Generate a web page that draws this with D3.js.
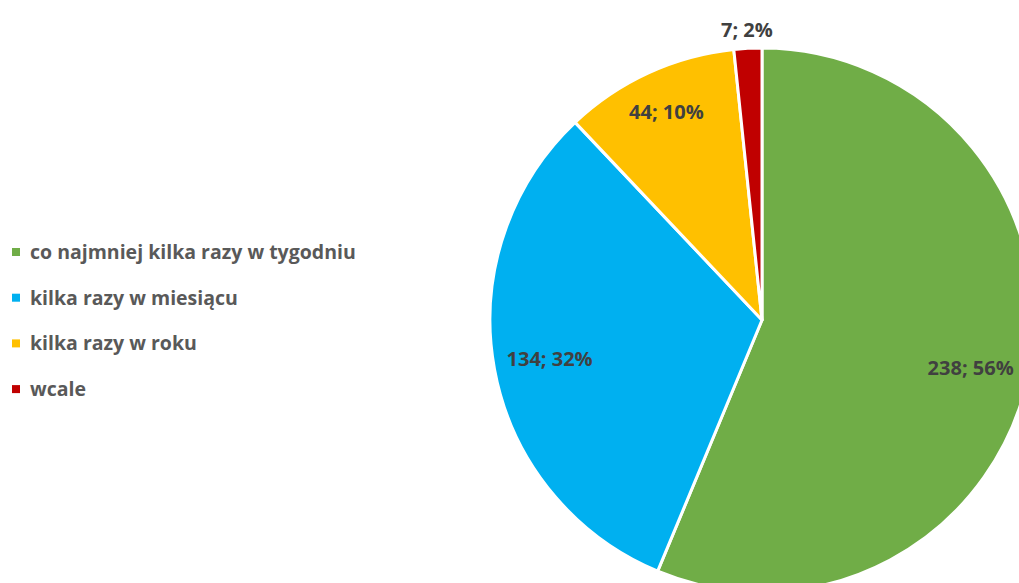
<!DOCTYPE html>
<html>
<head>
<meta charset="utf-8">
<script src="https://cdn.jsdelivr.net/npm/d3@7"></script>
<style>
  html, body { margin: 0; padding: 0; background: #fff; overflow: hidden; }
  svg { display: block; font-family: "Open Sans", Lato, sans-serif; font-weight: bold; }
</style>
</head>
<body>
<svg id="chart"></svg>
<script>
// ── Data ─────────────────────────────────────────────────────────────────────
const categories = [
  "co najmniej kilka razy w tygodniu",
  "kilka razy w miesiącu",
  "kilka razy w roku",
  "wcale"
];
const counts   = [238, 134, 44, 7];
const percents = ["56%", "32%", "10%", "2%"];
const colors   = ["#70AD47", "#00B0F0", "#FFC000", "#C00000"];

// ── Layout ───────────────────────────────────────────────────────────────────
const W = 1019, H = 583;
const cx = 762, cy = 320, R = 272;
// label distance from centre and angle nudge (deg), per slice
const labelR     = [214, 216, 229, 290];
const labelNudge = [1.6, 0, 0, 0];

const svg = d3.select("#chart").attr("width", W).attr("height", H);

const pie = d3.pie().sort(null).value(d => d)(counts);
const arc = d3.arc().innerRadius(0).outerRadius(R);

const g = svg.append("g").attr("transform", `translate(${cx},${cy})`);

g.selectAll("path")
  .data(pie)
  .join("path")
  .attr("d", arc)
  .attr("fill", (d, i) => colors[i])
  .attr("stroke", "#fff")
  .attr("stroke-width", 3)
  .attr("stroke-linejoin", "round");

// ── Data labels ──────────────────────────────────────────────────────────────
g.selectAll("text.lbl")
  .data(pie)
  .join("text")
  .attr("class", "lbl")
  .attr("transform", (d, i) => {
    const a = (d.startAngle + d.endAngle) / 2 + labelNudge[i] * Math.PI / 180;
    const x = Math.sin(a) * labelR[i], y = -Math.cos(a) * labelR[i];
    return `translate(${x},${y})`;
  })
  .attr("text-anchor", "middle")
  .attr("dy", "0.35em")
  .attr("fill", "#404040")
  .attr("font-size", 20)
  .text((d, i) => `${counts[i]}; ${percents[i]}`);

// ── Legend ───────────────────────────────────────────────────────────────────
const legend = svg.append("g").attr("transform", "translate(12,252)");
const rows = legend.selectAll("g")
  .data(categories)
  .join("g")
  .attr("transform", (d, i) => `translate(0,${i * 45.7})`);
rows.append("rect")
  .attr("x", 0).attr("y", -4)
  .attr("width", 8).attr("height", 8)
  .attr("fill", (d, i) => colors[i]);
rows.append("text")
  .attr("x", 18).attr("dy", "0.35em")
  .attr("fill", "#595959")
  .attr("font-size", 19.5)
  .text(d => d);
</script>
</body>
</html>
